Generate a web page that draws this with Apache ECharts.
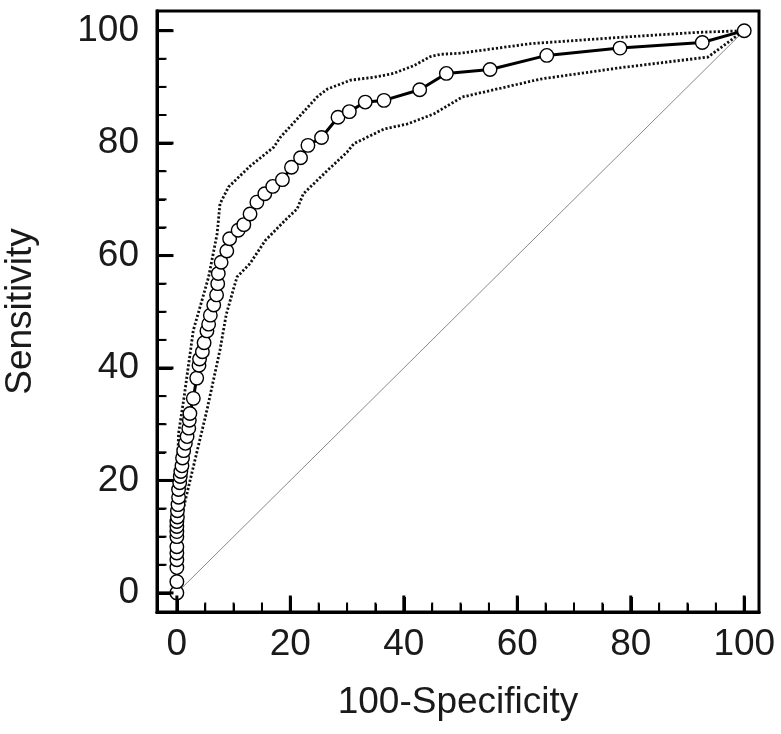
<!DOCTYPE html>
<html>
<head>
<meta charset="utf-8">
<script src="https://cdn.jsdelivr.net/npm/echarts@6/dist/echarts.min.js"></script>
<style>
html,body{margin:0;padding:0;background:#fff;}
#chart{width:781px;height:734px;}
</style>
</head>
<body>
<div id="chart"></div>
<script>
// ROC curve points [100-Specificity, Sensitivity]
var rocPoints = [
  [0,0],[0,2.0],[0,4.5],[0,5.9],[0,7.1],[0,8.2],[0,10.0],[0,10.9],[0,11.8],[0,12.7],
  [0.1,13.5],[0.1,14.6],[0.2,15.7],[0.3,17.0],[0.3,18.4],[0.5,19.6],[0.6,20.7],[0.7,21.6],
  [0.9,22.6],[1.0,24.0],[1.2,25.3],[1.5,26.6],[1.8,27.8],[2.1,29.3],[2.2,30.7],[2.3,31.9],
  [2.9,34.6],[3.5,38.2],[3.9,40.5],[4.0,41.6],[4.5,42.9],[4.8,44.5],[5.3,46.6],[5.6,47.8],
  [5.9,49.4],[6.5,51.2],[7.0,53.0],[7.2,55.0],[7.3,56.8],[7.8,58.8],[8.8,60.8],[9.3,63.0],
  [10.8,64.5],[11.8,65.5],[12.9,67.4],[14.1,69.5],[15.5,71.0],[16.9,72.3],[18.6,73.5],
  [20.2,75.7],[21.8,77.4],[23.1,79.6],[25.5,81.0],[28.4,84.6],[30.4,85.6],[33.2,87.3],
  [36.5,87.6],[42.8,89.5],[47.5,92.4],[55.2,93.1],[65.2,95.6],[78.1,96.9],[92.6,97.9],[100,100]
];
// Upper confidence bound
var upperBand = [
  [0,18],[0.3,28.4],[1.2,34.3],[2.9,46.7],[4.1,50.9],[5.6,56.2],[7.1,63.9],[7.6,69.2],
  [9.1,72.2],[12.9,75.9],[17.1,79.3],[18.2,81.0],[21.2,84.3],[24.7,88.2],[26.5,89.6],
  [30.6,91.2],[34.7,91.7],[38.2,92.4],[41.8,93.8],[44.7,95.4],[46.5,95.8],[50,96.0],
  [62.4,97.7],[79.4,98.9],[91.8,99.7],[100,100]
];
// Lower confidence bound
var lowerBand = [
  [0.3,11],[1.5,16.5],[2.9,22.4],[5.3,32.5],[7.6,43.2],[8.7,49.5],[9.4,52.0],[10.6,56.2],
  [12.9,58.6],[15.6,62.7],[19.4,66.6],[21.2,68.3],[22.3,71.0],[26.5,75.1],[30.0,78.4],
  [31.2,79.9],[36.5,82.5],[40.6,83.4],[45.3,85.2],[50.3,88.2],[64.1,91.4],[78.8,93.5],
  [93.6,95.3],[98.3,98.8],[100,100]
];
// Chance diagonal
var diagonal = [[0,0],[100,100]];

var majorTicks = [0,20,40,60,80,100];
var minorTicks = [5,10,15,25,30,35,45,50,55,65,70,75,85,90,95];

var X_MIN = -3.5, X_MAX = 102.6, Y_MIN = -3.4, Y_MAX = 103.5;
var FONT = "'Liberation Sans', Arial, sans-serif";
var TXT = '#1a1a1a';

function makeAxis(isX, minor) {
  var ax = {
    type: 'value',
    min: isX ? X_MIN : Y_MIN,
    max: isX ? X_MAX : Y_MAX,
    position: isX ? 'bottom' : 'left',
    axisLine: {show: true, onZero: false, lineStyle: {color: '#000', width: 3}},
    splitLine: {show: false},
    axisTick: {
      show: true, inside: true,
      customValues: minor ? minorTicks : majorTicks,
      length: minor ? 8 : 15,
      lineStyle: {color: '#000', width: minor ? 2 : 3}
    },
    axisLabel: {
      show: !minor,
      customValues: majorTicks,
      fontSize: 37, color: TXT, fontFamily: FONT,
      margin: isX ? 14 : 18
    }
  };
  if (!minor) {
    ax.name = isX ? '100-Specificity' : 'Sensitivity';
    ax.nameLocation = 'middle';
    ax.nameGap = isX ? 72 : 118;
    ax.nameTextStyle = {fontSize: 37, color: TXT, fontFamily: FONT};
  }
  return ax;
}

// tick marks drawn through the axes' own scales (value, isMajor)
var tickData = majorTicks.map(function (v) { return [v, 1]; })
  .concat(minorTicks.map(function (v) { return [v, 0]; }));

function tickSeries(isX) {
  return {
    type: 'custom', silent: true, clip: false, z: 10,
    data: tickData,
    encode: isX ? {x: 0} : {y: 0},
    renderItem: function (params, api) {
      var v = api.value(0), major = api.value(1) === 1;
      var len = major ? 15 : 8;
      var p;
      if (isX) {
        p = api.coord([v, Y_MIN]);
        return {type: 'line', shape: {x1: p[0], y1: p[1] - 1, x2: p[0], y2: p[1] - 1.5 - len},
                style: {stroke: '#000', lineWidth: major ? 3 : 2}};
      }
      p = api.coord([X_MIN, v]);
      return {type: 'line', shape: {x1: p[0] + 1, y1: p[1], x2: p[0] + 1.5 + len, y2: p[1]},
              style: {stroke: '#000', lineWidth: major ? 3 : 2}};
    }
  };
}

var chart = echarts.init(document.getElementById('chart'));
chart.setOption({
  animation: false,
  backgroundColor: '#fff',
  grid: {left: 157, right: 22, top: 11, bottom: 122, show: true, borderColor: '#000', borderWidth: 3, outerBoundsMode: 'none'},
  xAxis: [makeAxis(true, false), makeAxis(true, true)],
  yAxis: [makeAxis(false, false), makeAxis(false, true)],
  series: [
    {type: 'line', data: diagonal, symbol: 'none', lineStyle: {color: '#8a8a8a', width: 1}, silent: true},
    {type: 'line', data: upperBand, symbol: 'none', lineStyle: {color: '#111', width: 2.8, type: [2.2, 2]}, silent: true},
    {type: 'line', data: lowerBand, symbol: 'none', lineStyle: {color: '#111', width: 2.8, type: [2.2, 2]}, silent: true},
    {type: 'line', data: rocPoints, symbol: 'circle', symbolSize: 13.5, showAllSymbol: true,
     lineStyle: {color: '#000', width: 3},
     itemStyle: {color: '#fff', borderColor: '#000', borderWidth: 1.4}},
    tickSeries(true),
    tickSeries(false)
  ]
});
</script>
</body>
</html>
